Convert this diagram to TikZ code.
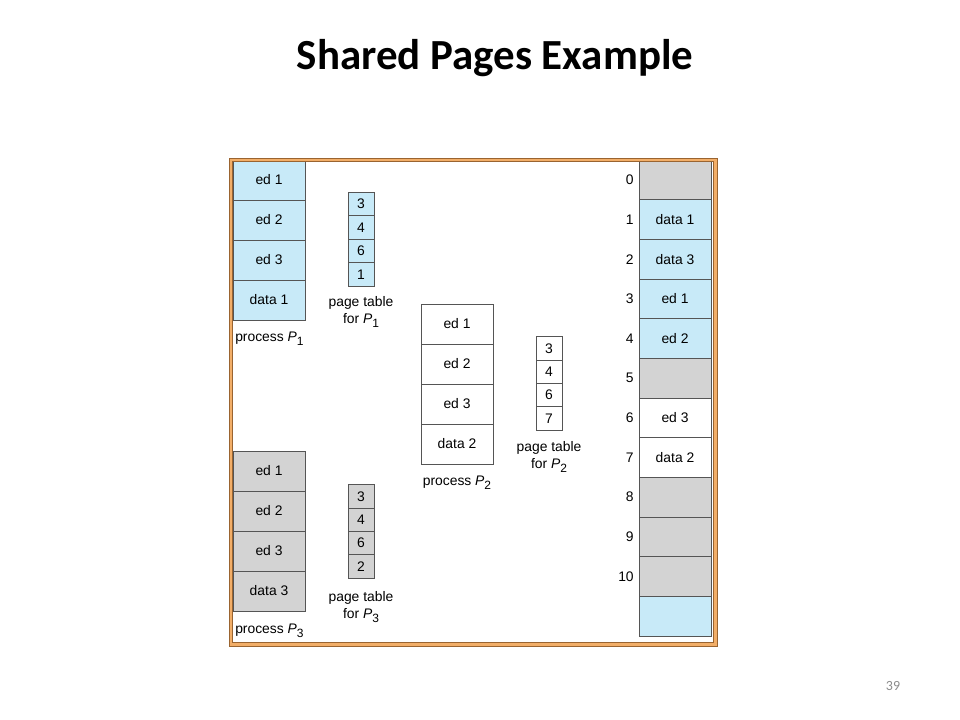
\documentclass[tikz,border=0pt]{standalone}
\usepackage{fontspec}
\setmainfont{Liberation Sans}
\newfontfamily\titlefont{Carlito}
\definecolor{cellblue}{HTML}{C8EAF8}
\definecolor{cellgray}{HTML}{D3D3D3}
\definecolor{linegray}{HTML}{555555}
\definecolor{frameorange}{HTML}{F2AE68}
\definecolor{framebrown}{HTML}{9A6430}
\definecolor{pagenum}{HTML}{8C8C8C}
\newcommand{\Pn}[1]{\textit{P}\raisebox{-0.55ex}{\small #1}}
\tikzset{
  cell/.style={draw=linegray, line width=0.6pt, minimum width=54pt, minimum height=30pt, inner sep=0pt, font=\fontsize{10.4}{12}\selectfont},
  memcell/.style={cell, minimum height=29.75pt},
  ptcell/.style={draw=linegray, line width=0.6pt, minimum width=19.5pt, minimum height=17.6pt, inner sep=0pt, font=\fontsize{10.4}{12}\selectfont},
  blue/.style={fill=cellblue},
  grey/.style={fill=cellgray},
  white/.style={fill=white},
  lbl/.style={inner sep=0pt, font=\fontsize{10.4}{12.75}\selectfont, align=center},
  num/.style={inner sep=0pt, anchor=east, font=\fontsize{10.4}{12}\selectfont},
}
\begin{document}
\begin{tikzpicture}[x=0.75pt, y=-0.75pt]
\useasboundingbox (0,0) rectangle (960,720);
\fill[white] (0,0) rectangle (960,720);

% title
\node[inner sep=0pt, anchor=base, font=\titlefont\bfseries\fontsize{32.2}{36}\selectfont] (title) at (495,70) {Shared Pages Example};
\node[inner sep=0pt, text=pagenum, font=\titlefont\fontsize{10.5}{12}\selectfont] (pnum) at (893,686) {39};

% process P1
\foreach \t [count=\i from 0] in {ed 1, ed 2, ed 3, data 1}
  \node[cell, blue] (pa\i) at (269, 180+40*\i) {\t};
\node[lbl, anchor=base west] (pal) at (235,341) {process \Pn{1}};
% page table P1
\foreach \t [count=\i from 0] in {3,4,6,1}
  \node[ptcell, blue] (ta\i) at (361, 203.75+23.5*\i) {\t};
\node[lbl, anchor=north] (tal) at (361,296) {page table\\for \Pn{1}};

% process P2
\foreach \t [count=\i from 0] in {ed 1, ed 2, ed 3, data 2}
  \node[cell, white] (pb\i) at (457, 324+40*\i) {\t};
\node[lbl, anchor=base] (pbl) at (457,485) {process \Pn{2}};
% page table P2
\foreach \t [count=\i from 0] in {3,4,6,7}
  \node[ptcell, white] (tb\i) at (549, 348.6+23.25*\i) {\t};
\node[lbl, anchor=north] (tbl) at (549,441) {page table\\for \Pn{2}};

% process P3
\foreach \t [count=\i from 0] in {ed 1, ed 2, ed 3, data 3}
  \node[cell, grey] (pc\i) at (269, 471+40*\i) {\t};
\node[lbl, anchor=base west] (pcl) at (235,633) {process \Pn{3}};
% page table P3
\foreach \t [count=\i from 0] in {3,4,6,2}
  \node[ptcell, grey] (tc\i) at (361, 496.6+23.25*\i) {\t};
\node[lbl, anchor=north] (tcl) at (361,591) {page table\\for \Pn{3}};

% physical memory
\foreach \t/\f [count=\i from 0] in {{}/grey, data 1/blue, data 3/blue, ed 1/blue, ed 2/blue, {}/grey, ed 3/white, data 2/white, {}/grey, {}/grey, {}/grey, {}/blue}
  \node[memcell, \f] (m\i) at (675, 179.83+39.67*\i) {\t};
\foreach \i in {0,...,10}
  \node[num] (n\i) at ([xshift=-3.5pt]m\i.west) {\i};

% frame
\draw[frameorange, line width=2.6pt] (230.75,159.75) rectangle (715.25,644.25);
\draw[framebrown, line width=0.5pt] (229,158) rectangle (717,646);
\draw[framebrown, line width=0.5pt] (232.5,161.5) rectangle (713.5,642.5);
\end{tikzpicture}
\end{document}
